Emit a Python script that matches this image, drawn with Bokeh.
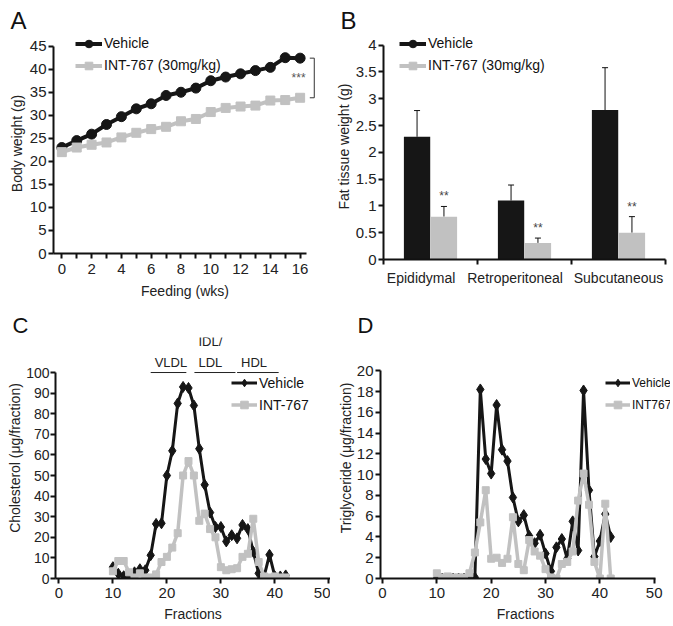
import math
from bokeh.plotting import figure
from bokeh.models import (Range1d, FixedTicker, Legend, LegendItem, Whisker,
                          TeeHead, ColumnDataSource)
from bokeh.layouts import column, row
from bokeh.embed import file_html
from bokeh.resources import INLINE
from bokeh.core.properties import value

# ---------------- data ----------------
weeks = list(range(17))
bw_vehicle = [23.0, 24.5, 25.9, 28.0, 29.7, 31.4, 32.5, 34.3, 35.0, 35.9, 37.5, 38.3, 39.0, 39.7, 40.4, 42.5, 42.4]
bw_int = [22.0, 23.0, 23.6, 24.1, 25.2, 26.2, 27.0, 27.5, 28.7, 29.2, 30.7, 31.6, 31.9, 32.1, 33.2, 33.3, 33.8]

tissues = ["Epididymal", "Retroperitoneal", "Subcutaneous"]
fat_vehicle = [2.29, 1.10, 2.79]
fat_vehicle_err = [0.49, 0.29, 0.79]
fat_int = [0.80, 0.31, 0.50]
fat_int_err = [0.19, 0.09, 0.30]

fractions = list(range(10, 43))
chol_vehicle = [5.5, 2.3, 1.1, 0.3, 3.0, 4.5, 4.0, 11.3, 26.5, 26.8, 50, 62, 85, 93, 92.5, 84, 63, 45.5,
                32, 25, 25, 18, 21, 19.5, 26, 24, 13, 2.5, 1, 11.5, 1, 1, 1.5]
chol_int = [3.5, 8.5, 8.5, 3, 0.5, 2.5, 0.5, 0.5, 2, 8, 10.5, 15, 22, 50, 57, 50, 28, 31.5,
            24, 20, 5.5, 4, 4.5, 5, 10.5, 12, 29, 8, 1, 0.5, 1, 0.5, 0.5]
tg_vehicle = [0, 0, 0, 0, 0, 0, 0, 0.1, 18.2, 11.5, 10.1, 16.7, 12.4, 11.3, 7.8, 5.5, 6.1, 4.1,
              3.4, 4.2, 2.4, 0.7, 3.0, 3.8, 1.9, 5.5, 2.7, 18.1, 8.5, 2.1, 3.6, 6.2, 4.0]
tg_int = [0.5, 0.1, 0.2, 0.1, 0.1, 0.1, 0.5, 2.5, 5.4, 8.5, 1.9, 2.0, 1.5, 1.9, 5.9, 1.4, 0.8, 3.7,
          2.6, 2.2, 0.9, 0.1, 0.0, 1.4, 1.6, 2.6, 7.5, 10.1, 7.1, 1.6, 0.0, 7.2, 0.0]

lipo_names = ["VLDL", "IDL/\nLDL", "HDL"]
lipo_start = [17.0, 25.1, 33.0]
lipo_end = [23.6, 32.7, 40.7]

FONT = "Liberation Sans"
BLACK = "#161616"
GRAY = "#c1c1c1"
TXT = "#222222"


def make_fig(fw, fh, xr, yr, bl, br, bt, bb, letter, offset, lsize):
    p = figure(frame_width=fw, frame_height=fh, x_range=Range1d(*xr), y_range=Range1d(*yr),
               output_backend="svg", toolbar_location=None,
               min_border_left=bl, min_border_right=br, min_border_top=bt, min_border_bottom=bb)
    p.outline_line_color = None
    p.grid.visible = False
    p.background_fill_color = "white"
    p.border_fill_color = "white"
    p.title.text = letter
    p.title.align = "left"
    p.title.offset = offset
    p.title.standoff = 0
    p.title.text_font = FONT
    p.title.text_font_size = lsize
    p.title.text_font_style = "normal"
    p.title.text_color = "#111111"
    for ax in p.axis:
        ax.axis_line_width = 2
        ax.axis_line_color = "#111111"
        ax.major_tick_line_width = 2
        ax.major_tick_line_color = "#111111"
        ax.major_tick_out = 5
        ax.major_tick_in = 0
        ax.minor_tick_line_width = 2
        ax.minor_tick_line_color = "#111111"
        ax.minor_tick_out = 5
        ax.minor_tick_in = 0
        ax.major_label_text_font = FONT
        ax.major_label_text_font_size = "15px"
        ax.major_label_text_color = TXT
        ax.axis_label_text_font = FONT
        ax.axis_label_text_font_size = "14px"
        ax.axis_label_text_font_style = "normal"
        ax.axis_label_text_color = TXT
    p.xaxis.major_label_standoff = 5
    p.xaxis.axis_label_standoff = 6
    p.yaxis.major_label_standoff = 2
    p.yaxis.axis_label_standoff = 2
    return p


def legend(p, items, x, y, gw, fsize):
    lg = Legend(items=items, location=(x, y), orientation="vertical",
                border_line_color=None, background_fill_alpha=0, padding=0, margin=0,
                spacing=3, glyph_width=gw, glyph_height=19, label_height=19,
                label_standoff=2, label_text_font=FONT, label_text_font_size=fsize,
                label_text_color="#111111")
    p.add_layout(lg)


# ---------------- Panel A ----------------
pa = make_fig(263, 220, (-0.56, 17.1), (0, 47.75), 53, 0, 33, 57, "A", -43, "24px")
pa.xaxis.bounds = (-0.56, 16.4)
pa.yaxis.bounds = (0, 45)
pa.xaxis.ticker = FixedTicker(ticks=list(range(0, 17, 2)), minor_ticks=list(range(1, 17, 2)))
pa.yaxis.ticker = FixedTicker(ticks=list(range(0, 46, 5)), minor_ticks=[])
pa.xaxis.axis_label = "Feeding (wks)"
pa.yaxis.axis_label = "Body weight (g)"
la1 = pa.line(weeks, bw_vehicle, line_color=BLACK, line_width=4)
sa1 = pa.scatter(weeks, bw_vehicle, marker="circle", size=10, fill_color=BLACK, line_color=BLACK)
la2 = pa.line(weeks, bw_int, line_color=GRAY, line_width=4)
sa2 = pa.scatter(weeks, bw_int, marker="square", size=9, fill_color=GRAY, line_color=GRAY)
end_x = weeks[-1] + 0.95
pa.segment(x0=[end_x], y0=[bw_vehicle[-1]], x1=[end_x], y1=[bw_int[-1]], line_color="#333333", line_width=1)
pa.segment(x0=[end_x - 0.3, end_x - 0.3], y0=[bw_vehicle[-1], bw_int[-1]], x1=[end_x, end_x],
           y1=[bw_vehicle[-1], bw_int[-1]], line_color="#333333", line_width=1)
pa.text(x=[weeks[-1] - 0.1], y=[(bw_vehicle[-1] + bw_int[-1]) / 2], text=["***"], text_align="center",
        text_baseline="middle", text_font=value(FONT), text_font_size="12px", text_color="#555555")
legend(pa, [LegendItem(label="Vehicle", renderers=[la1, sa1]),
            LegendItem(label="INT-767 (30mg/kg)", renderers=[la2, sa2])], 22, 178.5, 27, "14px")

# ---------------- Panel B ----------------
pb = make_fig(282, 226, (0, 3), (0, 4.218), 67, 8, 30, 54, "B", -43, "24px")
pb.yaxis.bounds = (0, 4)
yt = [i * 0.5 for i in range(9)]
pb.yaxis.ticker = FixedTicker(ticks=yt, minor_ticks=[])
pb.yaxis.major_label_overrides = {t: (str(int(t)) if t == int(t) else str(t)) for t in yt}
centers = [i + 0.5 for i in range(len(tissues))]
label_pos = [0.4, 1.4, 2.5]
pb.xaxis.ticker = FixedTicker(ticks=label_pos, minor_ticks=list(range(len(tissues) + 1)))
pb.xaxis.major_label_overrides = {c: t for c, t in zip(label_pos, tissues)}
pb.xaxis.major_tick_out = 0
pb.xaxis.major_label_standoff = 5
pb.xaxis.major_label_text_font_size = "14px"
pb.yaxis.axis_label = "Fat tissue weight (g)"
pb.yaxis.axis_label_standoff = 1
dodge = 0.143
xv = [c - dodge for c in centers]
xi = [c + dodge for c in centers]
pb.vbar(x=xv, top=fat_vehicle, width=0.28, fill_color=BLACK, line_color=None)
pb.vbar(x=xi, top=fat_int, width=0.28, fill_color=GRAY, line_color=None)
src_v = ColumnDataSource(dict(x=xv, lo=fat_vehicle, up=[a + b for a, b in zip(fat_vehicle, fat_vehicle_err)]))
src_i = ColumnDataSource(dict(x=xi, lo=fat_int, up=[a + b for a, b in zip(fat_int, fat_int_err)]))
for s in (src_v, src_i):
    pb.add_layout(Whisker(source=s, base="x", lower="lo", upper="up", dimension="height",
                          line_color="#111111", line_width=1, lower_head=None,
                          upper_head=TeeHead(size=6, line_color="#111111", line_width=1)))
pb.text(x=xi, y=src_i.data["up"], text=["**"] * 3, text_align="center", text_baseline="bottom",
        y_offset=-3, text_font=value(FONT), text_font_size="12px", text_color="#444444")
lb1 = pb.line([math.nan], [math.nan], line_color=BLACK, line_width=4)
sb1 = pb.scatter([math.nan], [math.nan], marker="circle", size=10, fill_color=BLACK, line_color=BLACK)
lb2 = pb.line([math.nan], [math.nan], line_color=GRAY, line_width=4)
sb2 = pb.scatter([math.nan], [math.nan], marker="square", size=9, fill_color=GRAY, line_color=GRAY)
legend(pb, [LegendItem(label="Vehicle", renderers=[lb1, sb1]),
            LegendItem(label="INT-767 (30mg/kg)", renderers=[lb2, sb2])], 16, 184.5, 27, "14px")

# ---------------- Panel C ----------------
pc = make_fig(275, 241, (-0.63, 50.3), (0, 117), 55, 0, 26, 49, "C", -43, "22px")
pc.yaxis.bounds = (0, 100)
pc.xaxis.ticker = FixedTicker(ticks=list(range(0, 51, 10)), minor_ticks=[])
pc.yaxis.ticker = FixedTicker(ticks=list(range(0, 101, 10)), minor_ticks=[])
pc.yaxis.major_label_text_font_size = "14px"
pc.yaxis.major_label_standoff = 1
pc.yaxis.axis_label_standoff = 0
pc.xaxis.axis_label = "Fractions"
pc.yaxis.axis_label = "Cholesterol (μg/fraction)"
pc.xaxis.major_label_standoff = 4
pc.xaxis.axis_label_standoff = 5
lc1 = pc.line(fractions, chol_vehicle, line_color=BLACK, line_width=3)
sc1 = pc.scatter(fractions, chol_vehicle, marker="diamond", size=11, fill_color=BLACK, line_color=BLACK)
lc2 = pc.line(fractions, chol_int, line_color=GRAY, line_width=3.5)
sc2 = pc.scatter(fractions, chol_int, marker="square", size=7, fill_color=GRAY, line_color=GRAY)
pc.segment(x0=lipo_start, y0=[100] * 3, x1=lipo_end, y1=[100] * 3, line_color="#222222", line_width=1)
pc.text(x=lipo_start, y=[100] * 3, text=lipo_names, text_align="left", text_baseline="bottom",
        x_offset=4, y_offset=-3, text_line_height=1.35, text_font=value(FONT),
        text_font_size="13px", text_color="#222222")
legend(pc, [LegendItem(label="Vehicle", renderers=[lc1, sc1]),
            LegendItem(label="INT-767", renderers=[lc2, sc2])], 176, 164, 26, "14px")

# ---------------- Panel D ----------------
pd_ = make_fig(290, 241, (-0.37, 53.0), (0, 23.2), 50, 0, 26, 49, "D", -23, "22px")
pd_.xaxis.bounds = (-0.37, 50.26)
pd_.yaxis.bounds = (0, 20)
pd_.xaxis.ticker = FixedTicker(ticks=list(range(0, 51, 10)), minor_ticks=[])
pd_.yaxis.ticker = FixedTicker(ticks=list(range(0, 21, 2)), minor_ticks=[])
pd_.xaxis.axis_label = "Fractions"
pd_.yaxis.axis_label = "Triglyceride (μg/fraction)"
pd_.yaxis.axis_label_standoff = 0
pd_.xaxis.major_label_standoff = 4
pd_.xaxis.axis_label_standoff = 5
ld1 = pd_.line(fractions, tg_vehicle, line_color=BLACK, line_width=3)
sd1 = pd_.scatter(fractions, tg_vehicle, marker="diamond", size=11, fill_color=BLACK, line_color=BLACK)
ld2 = pd_.line(fractions, tg_int, line_color=GRAY, line_width=3.5)
sd2 = pd_.scatter(fractions, tg_int, marker="square", size=7, fill_color=GRAY, line_color=GRAY)
legend(pd_, [LegendItem(label="Vehicle", renderers=[ld1, sd1]),
             LegendItem(label="INT767", renderers=[ld2, sd2])], 225, 164, 25, "12px")

layout = column(row(pa, pb), row(pc, pd_))
open("out.html", "w").write(file_html(layout, INLINE))
